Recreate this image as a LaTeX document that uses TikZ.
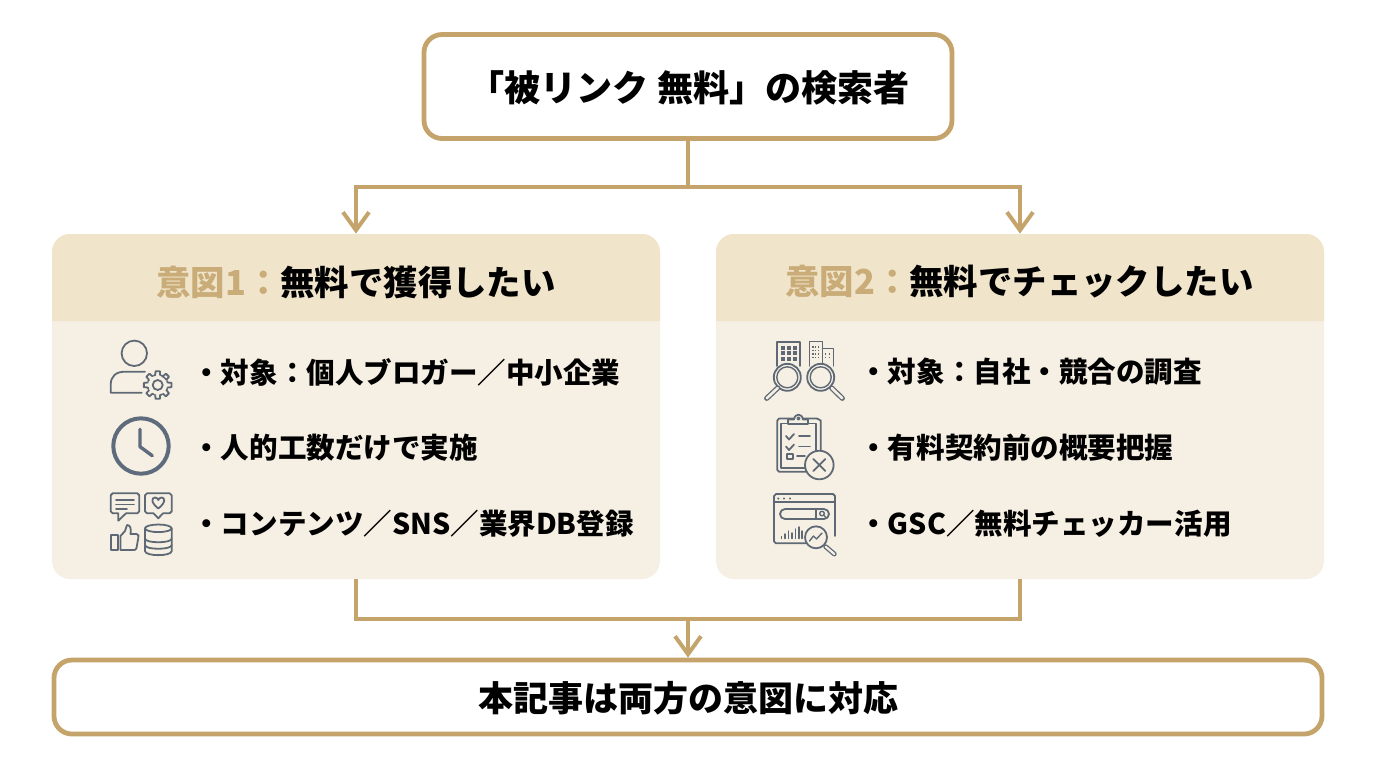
\documentclass[tikz,border=0pt]{standalone}
\usepackage{fontspec}
\setmainfont{Noto Sans CJK JP}
\usetikzlibrary{arrows.meta}
\definecolor{gold}{HTML}{C4A46B}
\definecolor{goldtext}{HTML}{C9AC78}
\definecolor{hdrfill}{HTML}{F0E5CB}
\definecolor{bodyfill}{HTML}{F6F0E4}
\definecolor{icon}{HTML}{5F6975}
\definecolor{iconb}{HTML}{5D6B7C}
\tikzset{
  flowbox/.style={draw=gold,line width=2.4pt,fill=white,rounded corners=9pt,inner sep=0pt},
  panelbox/.style={fill=bodyfill,rounded corners=9pt,minimum width=304pt,minimum height=172.5pt,inner sep=0pt},
  hdrshape/.style={fill=hdrfill},
  conn/.style={draw=gold,line width=2pt},
  connarrow/.style={conn,-{Straight Barb[length=9pt,width=13pt,line width=2pt]}},
  boxtext/.style={font=\bfseries\fontsize{17.5pt}{20pt}\selectfont,text=black,inner sep=0pt},
  toptextstyle/.style={font=\bfseries\fontsize{18.05pt}{20pt}\selectfont,text=black,inner sep=0pt,anchor=west},
  hdrtext/.style={font=\bfseries\fontsize{17.2pt}{20pt}\selectfont,text=black,inner sep=0pt,anchor=west},
  itemtext/.style={font=\bfseries\fontsize{14.27pt}{17pt}\selectfont,text=black,inner sep=0pt,anchor=west},
  ic/.style={draw=icon,line width=0.9pt,line join=round,line cap=round},
  icfine/.style={draw=icon,line width=0.7pt,line join=round,line cap=round},
}
\begin{document}
\begin{tikzpicture}[x=0.5pt,y=-0.5pt]
\useasboundingbox (0,0) rectangle (1376,768);
% panels
\node[panelbox] (panelL) at (356,406.5) {};
\node[panelbox] (panelR) at (1020,406.5) {};
\fill[hdrshape] (52,321) [rounded corners=9pt] -- (52,234) -- (660,234) [sharp corners] -- (660,321) -- cycle;
\fill[hdrshape] (716,321) [rounded corners=9pt] -- (716,234) -- (1324,234) [sharp corners] -- (1324,321) -- cycle;
% boxes
\node[flowbox,minimum width=264pt,minimum height=52pt] (top) at (688,86.5) {};
\node[toptextstyle] (toptext) at (468,88) {「被リンク 無料」の検索者};
\node[flowbox,minimum width=634pt,minimum height=37pt] (bottom) at (688,697) {};
\node[boxtext] (bottomtext) at (688,698) {本記事は両方の意図に対応};
% connectors
\coordinate (busT) at (688,187);
\coordinate (busB) at (688,619);
\draw[conn] (top.south) -- (busT);
\draw[connarrow] (busT) -| (panelL.north);
\draw[connarrow] (busT) -| (panelR.north);
\draw[conn] (panelL.south) |- (busB);
\draw[conn] (panelR.south) |- (busB);
\draw[connarrow] (busB) -- (bottom.north);
% headers
\node[hdrtext] (hL) at (156,282) {\textcolor{goldtext}{意図1：}無料で獲得したい};
\node[hdrtext] (hR) at (785,282) {\textcolor{goldtext}{意図2：}無料でチェックしたい};
% items
\node[itemtext] (l1) at (192,372) {・対象：個人ブロガー／中小企業};
\node[itemtext] (l2) at (192,448) {・人的工数だけで実施};
\node[itemtext] (l3) at (192,524) {・コンテンツ／SNS／業界DB登録};
\node[itemtext] (r1) at (859,372) {・対象：自社・競合の調査};
\node[itemtext] (r2) at (859,448) {・有料契約前の概要把握};
\node[itemtext] (r3) at (859,524) {・GSC／無料チェッカー活用};
% --- person + gear
\draw[ic] (134.3,353.3) circle (12.7);
\draw[ic] (141.7,392.7) -- (110.7,392.7) -- (110.7,385) .. controls (110.7,376) and (116,371.7) .. (125,371.7) -- (145,371.7);
\draw[ic,fill=bodyfill] (157.7,385) \foreach \a in {0,45,...,315}{
  -- ++(0,0) ({157.7+10.2*cos(\a-22.5)},{385+10.2*sin(\a-22.5)})
  -- ({157.7+10.2*cos(\a-14)},{385+10.2*sin(\a-14)})
  -- ({157.7+14*cos(\a-9)},{385+14*sin(\a-9)})
  -- ({157.7+14*cos(\a+9)},{385+14*sin(\a+9)})
  -- ({157.7+10.2*cos(\a+14)},{385+10.2*sin(\a+14)})
} -- cycle;
\fill[bodyfill] (157.7,385) circle (9);
\draw[ic] (157.7,385) circle (5);
% --- clock
\draw[draw=iconb,line width=2pt] (141,446) circle (27.7);
\draw[draw=iconb,line width=1.7pt,line cap=round,line join=round] (140,429.3) -- (140,446.7) -- (152.3,455.7);
% --- speech
\draw[ic] (112.7,493.3) -- (137.3,493.3) -- (139.3,495.3) -- (139.3,511.3) -- (137.3,513.3) -- (126,513.3) -- (118.3,520.7) -- (118.3,513.3) -- (112.7,513.3) -- (110.7,511.3) -- (110.7,495.3) -- cycle;
\draw[ic] (116,500) -- (134,500) (116,504.5) -- (134,504.5) (116,509) -- (127,509);
% --- heart bubble
\draw[ic] (147,493.3) -- (169.7,493.3) -- (171.7,495.3) -- (171.7,511.3) -- (169.7,513.3) -- (163,513.3) -- (158.3,518.3) -- (153.5,513.3) -- (147,513.3) -- (145,511.3) -- (145,495.3) -- cycle;
\draw[ic] (158.3,508.5) .. controls (150,502) and (152,497.5) .. (155,497.5) .. controls (157,497.5) and (158,499) .. (158.3,500) .. controls (158.6,499) and (159.6,497.5) .. (161.6,497.5) .. controls (164.6,497.5) and (166.6,502) .. (158.3,508.5);
% --- thumb
\draw[ic] (110.7,535) rectangle (118.3,550);
\draw[ic] (120.5,536) -- (125,531) -- (127,525) .. controls (130,525) and (131.5,528) .. (130.5,534) -- (136.5,534) .. controls (138.5,534) and (139,536) .. (138.3,538) -- (136.5,548) .. controls (136,549.5) and (135,550) .. (134,550) -- (120.5,550) -- cycle;
% --- database
\draw[ic] (158.3,528.3) ellipse (13.3 and 3.8);
\draw[ic] (145,528.3) -- (145,551) .. controls (145,556.5) and (171.7,556.5) .. (171.7,551) -- (171.7,528.3);
\draw[ic] (145,538.5) .. controls (145,543.5) and (171.7,543.5) .. (171.7,538.5);
\draw[ic] (145,545) .. controls (145,550) and (171.7,550) .. (171.7,545);
% --- buildings + magnifiers
\draw[ic] (777.3,366) -- (777.3,341.7) -- (800,341.7) -- (800,366);
\foreach \i in {0,1,2}{\foreach \j in {0,1,2}{
  \fill[icon] ({781+\i*5.8},{345.5+\j*5.5}) rectangle ++(4,4);
}}
\draw[icfine] (809.3,366) -- (809.3,341.7) -- (822.7,341.7) -- (822.7,366);
\draw[icfine] (822.7,348.3) -- (833.3,348.3) -- (833.3,366);
\foreach \i in {0,1,2}{\foreach \j in {0,1,2,3}{
  \fill[icon] ({812.3+\i*2.8},{346+\j*3.6}) rectangle ++(1.3,1.5);
}}
\foreach \i in {0,1}{\foreach \j in {0,1}{
  \fill[icon] ({825+\i*3.6},{353+\j*3.6}) rectangle ++(1.4,1.5);
}}
\foreach \cx/\hx/\hy/\ex/\ey in {787.3/777.7/388/766.7/398.3, 820.7/831.7/388/842.3/398.3}{
  \draw[ic,fill=bodyfill] (\cx,377.3) circle (13.5);
  \draw[icfine] (\cx,377.3) circle (10.5);
  \draw[draw=icon,line width=2.6pt,line cap=round] (\hx,\hy) -- (\ex,\ey);
  \draw[draw=bodyfill,line width=1.3pt,line cap=round] (\hx,\hy) -- (\ex,\ey);
}
% --- clipboard
\draw[ic] (817,418.5) -- (779,418.5) -- (777.3,420.5) -- (777.3,470) -- (779,471.7) -- (806,471.7);
\draw[ic] (820.7,452) -- (820.7,420.5) -- (817,418.5);
\draw[icfine] (816,451) -- (816,423.5) -- (781,423.5) -- (781,468) -- (805,468);
\draw[ic,fill=bodyfill] (788,424) -- (788,419.5) -- (794,419.5) .. controls (795,413) and (802,413) .. (803,419.5) -- (808,419.5) -- (808,424) -- cycle;
\draw[icfine] (798.5,418.5) circle (1.3);
\draw[ic] (786,436) -- (789,439.5) -- (794,434);
\draw[ic] (786,446.5) -- (789,450) -- (794,444.5);
\draw[ic] (799,436) -- (810,436) (799,446.5) -- (810,446.5) (797,456) -- (805,456);
\draw[ic] (787.3,454) rectangle (792.7,459.3);
\draw[ic,fill=bodyfill] (819.3,465) circle (14.3);
\draw[ic] (813.3,459) -- (825.3,471) (825.3,459) -- (813.3,471);
% --- browser
\draw[ic] (806,543.3) -- (776,543.3) -- (774,541.3) -- (774,496) -- (776,494) -- (833,494) -- (835,496) -- (835,536);
\draw[ic] (774,502.3) -- (835,502.3);
\foreach \x in {778.3,784,790}{\fill[icon] (\x,498.5) circle (1.2);}
\draw[ic,rounded corners=2.5pt] (780,509) rectangle (829,519);
\draw[ic] (815.7,509) -- (815.7,519);
\draw[icfine] (822,513.5) circle (2.3);
\draw[icfine] (823.7,515.2) -- (826,517.5);
\draw[icfine] (781.5,536.5) -- (781.5,538.5) (785,534) -- (785,538.5) (788.5,531) -- (788.5,538.5) (792,533) -- (792,538.5) (795.5,529) -- (795.5,538.5) (799,527) -- (799,538.5) (802,531) -- (802,538.5);
\draw[ic,fill=bodyfill] (816,537.3) circle (11);
\draw[icfine] (809.5,541) -- (813.5,536) -- (816.5,539) -- (822,533);
\draw[draw=icon,line width=2.4pt,line cap=round] (825.7,546.7) -- (834.3,554);
\draw[draw=bodyfill,line width=1.1pt,line cap=round] (825.7,546.7) -- (834.3,554);
\end{tikzpicture}
\end{document}
